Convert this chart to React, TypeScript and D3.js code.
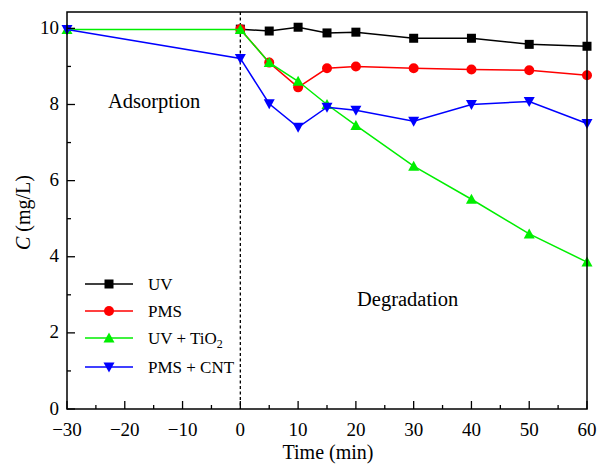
import React from "react";
import * as d3 from "d3";

const uvTime = [0, 5, 10, 15, 20, 30, 40, 50, 60];
const uvValues = [9.98, 9.93, 10.03, 9.88, 9.9, 9.74, 9.74, 9.58, 9.53];
const pmsTime = [0, 5, 10, 15, 20, 30, 40, 50, 60];
const pmsValues = [9.98, 9.1, 8.45, 8.95, 9.0, 8.95, 8.92, 8.9, 8.77];
const tioTime = [-30, 0, 5, 10, 15, 20, 30, 40, 50, 60];
const tioValues = [9.97, 9.97, 9.1, 8.61, 8.0, 7.45, 6.38, 5.51, 4.6, 3.86];
const cntTime = [-30, 0, 5, 10, 15, 20, 30, 40, 50, 60];
const cntValues = [9.97, 9.21, 8.02, 7.4, 7.93, 7.85, 7.56, 8.0, 8.08, 7.5];

const xTicks = [-30, -20, -10, 0, 10, 20, 30, 40, 50, 60];
const xMinor = [-25, -15, -5, 5, 15, 25, 35, 45, 55];
const yTicks = [0, 2, 4, 6, 8, 10];
const yMinor = [1, 3, 5, 7, 9];

const FONT = "'Liberation Serif', 'DejaVu Serif', serif";

type Series = { name: string; t: number[]; v: number[]; color: string; marker: string };
const series: Series[] = [
  { name: "UV", t: uvTime, v: uvValues, color: "#000000", marker: "square" },
  { name: "PMS", t: pmsTime, v: pmsValues, color: "#ff0000", marker: "circle" },
  { name: "UV+TiO2", t: tioTime, v: tioValues, color: "#00ee00", marker: "up" },
  { name: "PMS+CNT", t: cntTime, v: cntValues, color: "#0000ff", marker: "down" },
];

function Marker({ type, x, y, color }: { type: string; x: number; y: number; color: string }) {
  if (type === "square") return <rect x={x - 4.5} y={y - 4.5} width={9} height={9} fill={color} />;
  if (type === "circle") return <circle cx={x} cy={y} r={5} fill={color} />;
  if (type === "up")
    return <path d={`M${x},${y - 5.5}L${x + 5.5},${y + 4.5}L${x - 5.5},${y + 4.5}Z`} fill={color} />;
  return <path d={`M${x},${y + 5.5}L${x + 5.5},${y - 4.5}L${x - 5.5},${y - 4.5}Z`} fill={color} />;
}

export default function App() {
  const left = 67, right = 587, top = 12, bottom = 409;
  const x = d3.scaleLinear().domain([-30, 60]).range([left, right]);
  const y = d3.scaleLinear().domain([0, 10.43]).range([bottom, top]);
  const line = d3.line<[number, number]>().x((d) => x(d[0])).y((d) => y(d[1]));

  const legendY = [284, 311, 338, 367];

  return (
    <svg width={603} height={466} style={{ position: "absolute", left: 0, top: 0, background: "#fff" }} fontFamily={FONT}>
      <rect x={0} y={0} width={603} height={466} fill="#fff" />
      {/* dashed line at 0 */}
      <line x1={x(0)} x2={x(0)} y1={top} y2={bottom} stroke="#000" strokeWidth={1.3} strokeDasharray="3,2.5" />
      {/* series */}
      {series.map((s) => (
        <g key={s.name}>
          <path d={line(s.t.map((t, i) => [t, s.v[i]] as [number, number])) || ""} fill="none" stroke={s.color} strokeWidth={1.5} />
          {s.t.map((t, i) => (
            <Marker key={i} type={s.marker} x={x(t)} y={y(s.v[i])} color={s.color} />
          ))}
        </g>
      ))}
      {/* frame */}
      <rect x={left} y={top} width={right - left} height={bottom - top} fill="none" stroke="#000" strokeWidth={1.5} />
      {/* x ticks */}
      {xTicks.map((t) => (
        <g key={"x" + t}>
          <line x1={x(t)} x2={x(t)} y1={bottom} y2={bottom - 8} stroke="#000" strokeWidth={1.3} />
          <text x={x(t)} y={bottom + 27} fontSize={19} textAnchor="middle">
            {t < 0 ? "\u2212" + Math.abs(t) : t}
          </text>
        </g>
      ))}
      {xMinor.map((t) => (
        <line key={"xm" + t} x1={x(t)} x2={x(t)} y1={bottom} y2={bottom - 4} stroke="#000" strokeWidth={1.3} />
      ))}
      {/* y ticks */}
      {yTicks.map((t) => (
        <g key={"y" + t}>
          <line x1={left} x2={left + 8} y1={y(t)} y2={y(t)} stroke="#000" strokeWidth={1.3} />
          <text x={left - 8} y={y(t) + 5.5} fontSize={19} textAnchor="end">
            {t}
          </text>
        </g>
      ))}
      {yMinor.map((t) => (
        <line key={"ym" + t} x1={left} x2={left + 4} y1={y(t)} y2={y(t)} stroke="#000" strokeWidth={1.3} />
      ))}
      {/* axis titles */}
      <text x={(left + right) / 2 + 1} y={459} fontSize={20} textAnchor="middle">
        Time (min)
      </text>
      <text transform={`translate(30, ${(top + bottom) / 2 + 2}) rotate(-90)`} fontSize={20} textAnchor="middle">
        <tspan fontStyle="italic">C</tspan> (mg/L)
      </text>
      {/* annotations */}
      <text x={108} y={108} fontSize={20.5}>Adsorption</text>
      <text x={357} y={306} fontSize={20.5}>Degradation</text>
      {/* legend */}
      {series.map((s, i) => (
        <g key={"lg" + s.name}>
          <line x1={85} x2={133} y1={legendY[i]} y2={legendY[i]} stroke={s.color} strokeWidth={1.5} />
          <Marker type={s.marker} x={109} y={legendY[i]} color={s.color} />
          <text x={148} y={legendY[i] + 6} fontSize={17}>
            {i === 0 && "UV"}
            {i === 1 && "PMS"}
            {i === 2 && (
              <>
                UV + TiO<tspan fontSize={12} dy={4}>2</tspan>
              </>
            )}
            {i === 3 && "PMS + CNT"}
          </text>
        </g>
      ))}
    </svg>
  );
}
